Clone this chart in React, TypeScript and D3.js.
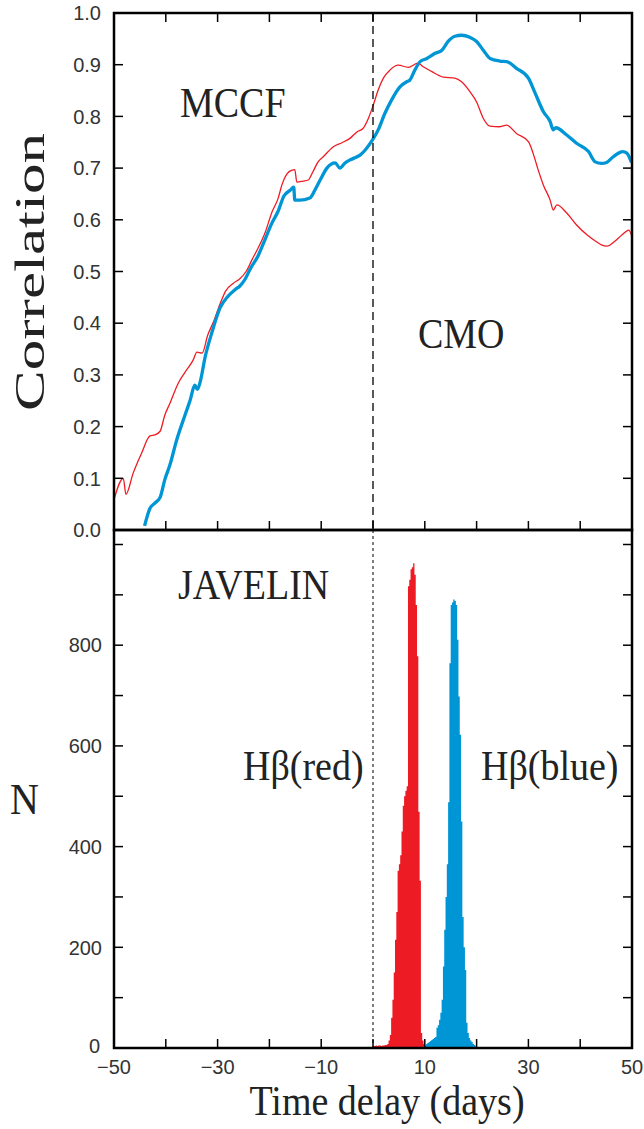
import React from "react";
import * as d3 from "d3";

// ---- data ----
const blueCCF: [number, number][] = [
  [-44.1, 0.008], [-43.05, 0.042], [-42.1, 0.052], [-41.1, 0.063], [-40.2, 0.097], [-39.2, 0.126],
  [-37.9, 0.174], [-36.3, 0.222], [-35.3, 0.251], [-34.4, 0.28], [-33.9, 0.272], [-33.4, 0.285],
  [-32.4, 0.335], [-31.1, 0.382], [-29.5, 0.43], [-28.0, 0.452], [-26.6, 0.465], [-25.7, 0.472],
  [-24.7, 0.485], [-23.7, 0.505], [-22.2, 0.53], [-21.0, 0.558], [-19.5, 0.594], [-18.3, 0.617],
  [-17.2, 0.646], [-16.0, 0.657], [-15.3, 0.663], [-15.1, 0.638], [-14.1, 0.638], [-12.2, 0.642],
  [-11.2, 0.658], [-10.2, 0.677], [-8.9, 0.7], [-7.3, 0.71], [-6.4, 0.7], [-5.4, 0.71],
  [-4.4, 0.716], [-3.5, 0.72], [-2.5, 0.725], [-1.5, 0.735], [-0.25, 0.752], [1.0, 0.774],
  [2.3, 0.806], [3.6, 0.832], [5.2, 0.857], [6.5, 0.867], [7.1, 0.87], [8.1, 0.89], [9.1, 0.906],
  [10.4, 0.912], [12.0, 0.922], [13.3, 0.928], [14.5, 0.945], [15.8, 0.955], [17.1, 0.957],
  [18.7, 0.953], [20.0, 0.945], [21.3, 0.928], [22.6, 0.912], [24.5, 0.907], [25.8, 0.906],
  [27.7, 0.893], [30.0, 0.874], [31.3, 0.845], [32.9, 0.809], [34.2, 0.79], [34.8, 0.774],
  [35.3, 0.778], [37.4, 0.764], [39.3, 0.748], [41.6, 0.732], [42.9, 0.712], [44.1, 0.709],
  [45.1, 0.711], [46.4, 0.722], [48.2, 0.732], [49.0, 0.729], [49.9, 0.711],
];

const redCCF: [number, number][] = [
  [-50, 0.059], [-48.2, 0.1], [-47.7, 0.069], [-46.3, 0.11], [-44.7, 0.148], [-43.05, 0.182],
  [-42.1, 0.184], [-41.1, 0.191], [-40.2, 0.222], [-39.2, 0.245], [-37.6, 0.284], [-36.3, 0.305],
  [-34.7, 0.329], [-34.0, 0.344], [-33.0, 0.342], [-31.9, 0.377], [-30.7, 0.405], [-29.5, 0.438],
  [-28.4, 0.463], [-27.0, 0.477], [-25.7, 0.486], [-24.5, 0.5], [-23.4, 0.522], [-22.2, 0.545],
  [-20.8, 0.576], [-19.5, 0.615], [-18.3, 0.642], [-17.6, 0.667], [-16.6, 0.689], [-15.6, 0.696],
  [-15.1, 0.697], [-14.7, 0.673], [-13.5, 0.675], [-12.5, 0.677], [-11.6, 0.693], [-10.6, 0.712],
  [-9.6, 0.722], [-7.7, 0.741], [-6.0, 0.749], [-4.4, 0.758], [-3.1, 0.77], [-1.9, 0.777],
  [-0.9, 0.796], [0.06, 0.822], [1.0, 0.851], [2.0, 0.874], [3.3, 0.89], [4.9, 0.899], [6.8, 0.895],
  [8.7, 0.903], [9.7, 0.896], [11.3, 0.887], [13.6, 0.876], [15.8, 0.874], [17.1, 0.867],
  [18.7, 0.848], [20.0, 0.828], [21.3, 0.796], [22.6, 0.781], [24.5, 0.78], [25.8, 0.783],
  [27.7, 0.767], [30.0, 0.751], [30.9, 0.729], [31.9, 0.696], [32.9, 0.667], [34.2, 0.638],
  [34.8, 0.619], [35.5, 0.629], [37.4, 0.613], [39.3, 0.59], [41.3, 0.571], [43.2, 0.557],
  [44.2, 0.551], [45.2, 0.549], [46.5, 0.557], [48.1, 0.571], [49.4, 0.58], [50, 0.567],
];

const binWidth = 0.25;
const redStart = 0;
const redCounts = [
  4, 4, 5, 4, 5, 5, 4, 5, 5, 6, 6, 8, 15, 26, 60, 96, 150, 215, 270, 352,
  365, 383, 430, 481, 500, 511, 520, 917, 930, 951, 955, 963, 940, 880, 778, 469, 332, 30, 15, 8,
];
const blueStart = 10;
const blueCounts = [
  5, 8, 10, 12, 14, 16, 18, 20, 22, 40, 45, 56, 70, 96, 162, 235, 300, 365, 488, 764,
  880, 885, 891, 888, 880, 811, 698, 622, 450, 260, 200, 155, 50, 30, 20, 15, 12, 8, 6, 3,
];

const xTickLabels = [-50, -30, -10, 10, 30, 50];
const xTicks = [-40, -30, -20, -10, 0, 10, 20, 30, 40];
const corrTicks = [0, 0.1, 0.2, 0.3, 0.4, 0.5, 0.6, 0.7, 0.8, 0.9, 1.0];
const nTicks = [100, 200, 300, 400, 500, 600, 700, 800, 900, 1000];
const nTickLabels = [0, 200, 400, 600, 800];

// ---- style ----
const RED = "#ed1c24";
const BLUE = "#0096d6";
const SERIF = "'Liberation Serif', 'Times New Roman', serif";
const SANS = "'Liberation Sans', Arial, sans-serif";
const INK = "#222";

const L = 114, R = 632, T = 13, MID = 530, B = 1048;
const x = d3.scaleLinear().domain([-50, 50]).range([L, R]);
const yTop = d3.scaleLinear().domain([0, 1]).range([MID, T]);
const yBot = d3.scaleLinear().domain([0, 1000]).range([B, 544.5]);
const TL = 9;

const line = d3
  .line<[number, number]>()
  .x((d) => x(d[0]))
  .y((d) => yTop(d[1]))
  .curve(d3.curveMonotoneX);

const histArea = d3
  .area<[number, number]>()
  .x((d) => x(d[0]))
  .y0(yBot(0))
  .y1((d) => yBot(d[1]))
  .curve(d3.curveStepAfter);

function Label({ x: tx, y: ty, text, size = 38, sy = 1.1, anchor = "start" }: any) {
  return (
    <text
      transform={`translate(${tx},${ty}) scale(1,${sy})`}
      fontFamily={SERIF}
      fontSize={size}
      fill={INK}
      textAnchor={anchor}
    >
      {text}
    </text>
  );
}

function Hist({ start, counts, color }: { start: number; counts: number[]; color: string }) {
  const pts: [number, number][] = counts.map((c, i) => [start + i * binWidth, c]);
  pts.push([start + counts.length * binWidth, counts[counts.length - 1]]);
  return <path d={histArea(pts) || ""} fill={color} />;
}

export default function App() {
  const fmtMinus = (v: number) => (v < 0 ? "\u2212" + Math.abs(v) : String(v));
  return (
    <svg
      width={644}
      height={1129}
      style={{ position: "absolute", left: 0, top: 0, display: "block", background: "#fff" }}
    >
      <rect x={0} y={0} width={644} height={1129} fill="#fff" />

      {/* top panel curves */}
      <path d={line(redCCF) || ""} fill="none" stroke={RED} strokeWidth={1.3} />
      <path d={line(blueCCF) || ""} fill="none" stroke={BLUE} strokeWidth={3.3} strokeLinejoin="round" />
      <line x1={x(0)} x2={x(0)} y1={T} y2={MID} stroke="#000" strokeWidth={1.3} strokeDasharray="8,5" />

      {/* bottom histograms */}
      <Hist start={redStart} counts={redCounts} color={RED} />
      <Hist start={blueStart} counts={blueCounts} color={BLUE} />
      <line x1={x(0)} x2={x(0)} y1={MID} y2={B} stroke="#000" strokeWidth={1} strokeDasharray="3,3" />

      {/* ticks */}
      <g stroke="#000" strokeWidth={1.5}>
        {corrTicks.map((t) => (
          <g key={"c" + t}>
            <line x1={L} x2={L + TL} y1={yTop(t)} y2={yTop(t)} />
            <line x1={R - TL} x2={R} y1={yTop(t)} y2={yTop(t)} />
          </g>
        ))}
        {xTicks.map((t) => (
          <g key={"xt" + t}>
            <line x1={x(t)} x2={x(t)} y1={T} y2={T + TL} />
            <line x1={x(t)} x2={x(t)} y1={MID} y2={MID - TL} />
            <line x1={x(t)} x2={x(t)} y1={B} y2={B - TL} />
          </g>
        ))}
        {nTicks.map((t) => (
          <g key={"n" + t}>
            <line x1={L} x2={L + TL} y1={yBot(t)} y2={yBot(t)} />
            <line x1={R - TL} x2={R} y1={yBot(t)} y2={yBot(t)} />
          </g>
        ))}
      </g>

      {/* frames */}
      <rect x={L} y={T} width={R - L} height={MID - T} fill="none" stroke="#000" strokeWidth={2.5} />
      <rect x={L} y={MID} width={R - L} height={B - MID} fill="none" stroke="#000" strokeWidth={2.5} />

      {/* tick labels */}
      <g fontFamily={SANS} fontSize={20} fill="#333">
        {corrTicks.map((t) => (
          <text key={"cl" + t} x={101} y={yTop(t)} dy="0.36em" textAnchor="end">
            {t.toFixed(1)}
          </text>
        ))}
        {nTickLabels.map((t) => (
          <text key={"nl" + t} x={t === 0 ? 100 : 102} y={yBot(t) - (t === 0 ? 2 : 0)} dy="0.36em" textAnchor="end">
            {t}
          </text>
        ))}
        {xTickLabels.map((t) => (
          <text key={"xl" + t} x={x(t)} y={1067} dy="0.36em" textAnchor="middle">
            {fmtMinus(t)}
          </text>
        ))}
      </g>

      {/* annotations */}
      <Label x={180} y={117} text="MCCF" />
      <Label x={418} y={348} text="CMO" />
      <Label x={178} y={599} text="JAVELIN" />
      <Label x={243} y={780} text="Hβ(red)" />
      <Label x={481} y={780} text="Hβ(blue)" />
      <Label x={10} y={814} text="N" size={40} />
      <Label x={387} y={1115} text="Time delay (days)" anchor="middle" size={38} />
      <text
        transform={`translate(44,272) rotate(-90)`}
        fontFamily={SERIF}
        fontSize={42}
        fill={INK}
        textAnchor="middle"
        textLength={278}
        lengthAdjust="spacingAndGlyphs"
      >
        Correlation
      </text>
    </svg>
  );
}
